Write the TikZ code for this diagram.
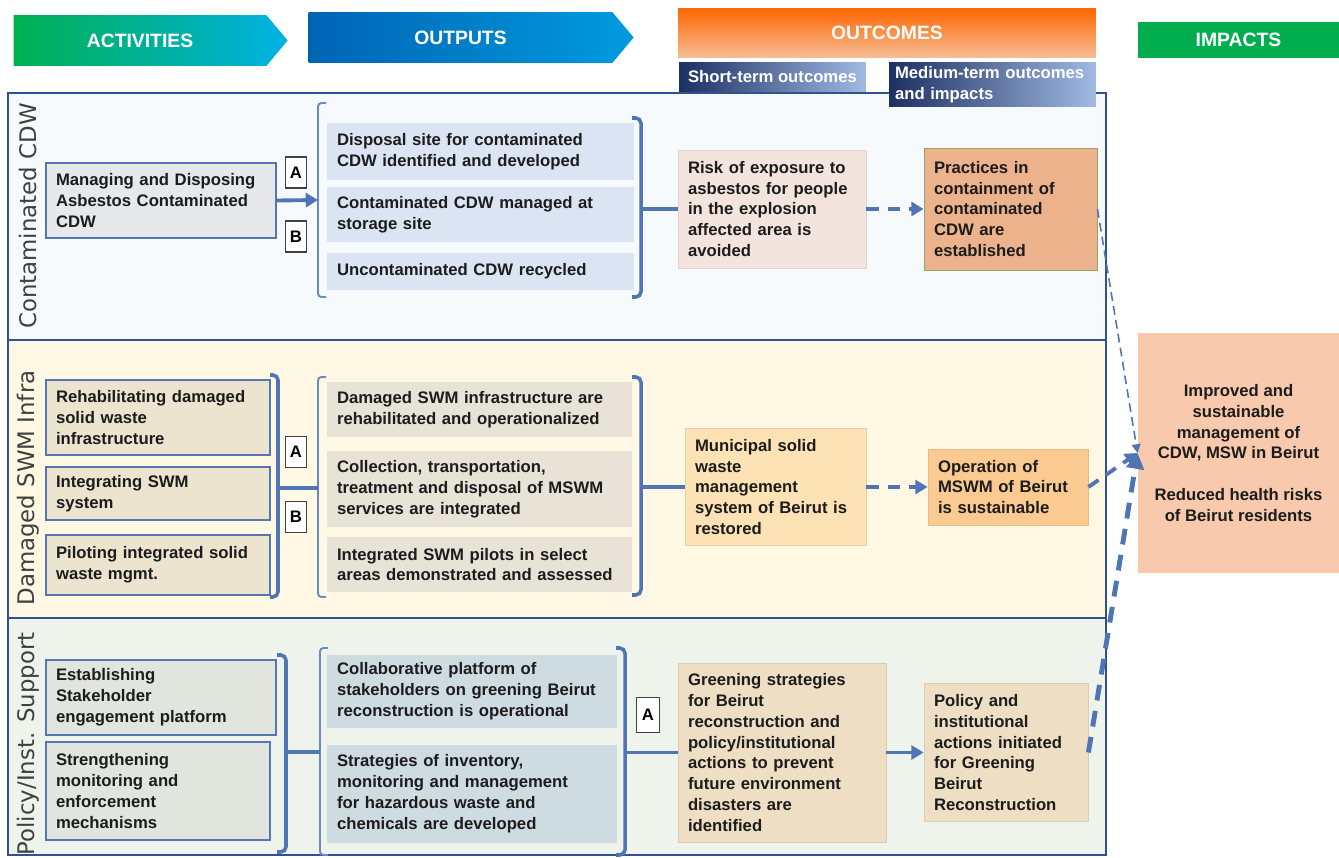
\documentclass[tikz,border=0pt]{standalone}
\usepackage{fontspec}
\setmainfont{Liberation Sans}
\newfontfamily\bandfont{DejaVu Sans}
\usepackage{xcolor}
\usepackage{tikz}
\usetikzlibrary{
  shapes.symbols,
  arrows.meta,
  positioning
}
\definecolor{framenavy}{RGB}{47, 82, 143}
\definecolor{linkblue}{RGB}{79, 117, 181}
\definecolor{actedge}{RGB}{84, 118, 178}
\definecolor{inkdark}{RGB}{28, 28, 28}
\definecolor{cdwbg}{RGB}{246, 250, 253}
\definecolor{swmbg}{RGB}{255, 248, 228}
\definecolor{polbg}{RGB}{238, 243, 236}
\definecolor{cdwact}{RGB}{230, 232, 236}
\definecolor{swmact}{RGB}{236, 228, 206}
\definecolor{polact}{RGB}{226, 228, 222}
\definecolor{cdwout}{RGB}{218, 228, 243}
\definecolor{swmout}{RGB}{231, 227, 215}
\definecolor{polout}{RGB}{206, 219, 224}
\definecolor{riskpink}{RGB}{243, 229, 221}
\definecolor{practorange}{RGB}{236, 178, 140}
\definecolor{practedge}{RGB}{150, 165, 100}
\definecolor{mswpeach}{RGB}{252, 226, 180}
\definecolor{operpeach}{RGB}{250, 202, 145}
\definecolor{greentan}{RGB}{238, 222, 196}
\definecolor{impactsalmon}{RGB}{248, 201, 172}
\definecolor{hdrgreen}{RGB}{0, 176, 80}
\definecolor{hdrcyan}{RGB}{0, 178, 228}
\definecolor{hdrdeep}{RGB}{0, 100, 180}
\definecolor{hdrsea}{RGB}{0, 155, 222}
\definecolor{hdrorange}{RGB}{255, 102, 0}
\definecolor{hdrpeach}{RGB}{246, 190, 150}
\definecolor{hdrnavy}{RGB}{28, 48, 98}
\definecolor{hdrsky}{RGB}{160, 186, 226}
\definecolor{impgreen}{RGB}{0, 174, 80}
\newcommand\boxtext{\fontsize{9.5pt}{11.9pt}\selectfont\bfseries}
\newcommand\hdrtext{\fontsize{11pt}{13pt}\selectfont\bfseries}
\tikzset{
  band/.style = {draw=framenavy, line width=1.1pt, fill=#1},
  bandlabel/.style = {
    rotate=90, text=black!75, inner sep=0pt,
    font=\bandfont\fontsize{13pt}{15pt}\selectfont
  },
  actbox/.style = {
    rectangle, draw=actedge, line width=1pt, fill=#1,
    align=left, font=\boxtext, text=inkdark, inner xsep=0.2cm
  },
  outbox/.style = {
    rectangle, fill=#1, align=left, font=\boxtext,
    text=inkdark, inner xsep=0.2cm
  },
  resbox/.style = {
    rectangle, fill=#1, draw=#1!92!black, line width=0.5pt,
    align=left, font=\boxtext, text=inkdark, inner xsep=0.2cm
  },
  tag/.style = {
    rectangle, draw=black!75, fill=white, line width=0.6pt,
    font=\boxtext, minimum width=0.42cm, minimum height=0.62cm, inner sep=0pt
  },
  hdrarrow/.style = {
    signal, signal to=east, signal pointer angle=100,
    text=white, font=\hdrtext, minimum height=1.02cm, inner sep=0pt
  },
  hdrbox/.style = {rectangle, text=white, font=\hdrtext, inner sep=0pt},
  brk/.style = {draw=linkblue, line width=2pt, rounded corners=3pt},
  brkthin/.style = {draw=linkblue!85, line width=1.1pt, rounded corners=2pt},
  arrblu/.style = {-{Triangle[length=7pt, width=8pt]}, draw=linkblue, line width=2.2pt},
  arrdash/.style = {arrblu, dash pattern=on 7pt off 5pt},
  arrthin/.style = {-{Triangle[length=5pt, width=5pt]}, draw=linkblue,
    line width=0.9pt, dash pattern=on 5pt off 3pt},
}

\begin{document}
\begin{tikzpicture}[x=0.02cm, y=-0.02cm]
  \useasboundingbox (0,0) rectangle (1339,858);

  \node[band=cdwbg, minimum width=21.96cm, minimum height=4.94cm] (bcdw) at (557,216.5) {};
  \node[band=swmbg, minimum width=21.96cm, minimum height=5.56cm] (bswm) at (557,479) {};
  \node[band=polbg, minimum width=21.96cm, minimum height=4.74cm] (bpol) at (557,736.5) {};

  \node[bandlabel] (lcdw) at (28,216) {Contaminated CDW};
  \node[bandlabel] (lswm) at (28,488) {Damaged SWM Infra};
  \node[bandlabel] (lpol) at (28,744) {Policy/Inst. Support};

  \node[hdrarrow, left color=hdrgreen, right color=hdrcyan, minimum width=5.48cm] (hact) at (140,40.5) {ACTIVITIES};
  \node[hdrarrow, left color=hdrdeep, right color=hdrsea, minimum width=6.5cm] (hout) at (460.5,37.5) {OUTPUTS};
  \node[hdrbox, top color=hdrorange, bottom color=hdrpeach, minimum width=8.36cm, minimum height=1cm] (hres) at (887,33) {OUTCOMES};
  \node[hdrbox, fill=impgreen, minimum width=4.02cm, minimum height=0.72cm] (himp) at (1238.5,40) {IMPACTS};
  \node[hdrbox, left color=hdrnavy, right color=hdrsky, font=\boxtext, minimum width=3.74cm, minimum height=0.6cm] (hshort) at (772.5,77) {Short-term outcomes};
  \node[hdrbox, left color=hdrnavy, right color=hdrsky, font=\boxtext, align=left, text width=3.9cm, inner xsep=0.12cm, minimum height=0.9cm] (hmed) at (992.5,84.5) {Medium-term outcomes\\and impacts};

  % contaminated CDW
  \node[actbox=cdwact, text width=4.2cm, minimum height=1.5cm] (act1) at (161,200.5) {Managing and Disposing\\Asbestos Contaminated\\CDW};
  \node[tag] (tA1) at (296,172.5) {A};
  \node[tag] (tB1) at (296,236.5) {B};
  \node[outbox=cdwout, text width=5.74cm, minimum height=1.14cm] (o11) at (480.5,151.5) {Disposal site for contaminated\\CDW identified and developed};
  \node[outbox=cdwout, text width=5.74cm, minimum height=1.1cm] (o12) at (480.5,214.5) {Contaminated CDW managed at\\storage site};
  \node[outbox=cdwout, text width=5.74cm, minimum height=0.74cm] (o13) at (480.5,271.5) {Uncontaminated CDW recycled};
  \node[resbox=riskpink, text width=3.36cm, minimum height=2.36cm] (r11) at (772,209) {Risk of exposure to\\asbestos for people\\in the explosion\\affected area is\\avoided};
  \node[resbox=practorange, draw=practedge, text width=3.06cm, minimum height=2.44cm] (r12) at (1010.5,209) {Practices in\\containment of\\contaminated\\CDW are\\established};

  \coordinate (b1l) at (318,200);
  \coordinate (b1r) at (641,209);
  \draw[brkthin] (326,103) -- (318,103) -- (318,297) -- (326,297);
  \draw[brk] (632,118) -- (641,118) -- (641,297) -- (632,297);
  \draw[arrblu] (act1.east) -- (b1l);
  \draw[brk] (b1r) -- (r11.west);
  \draw[arrdash] (r11.east) -- (r12.west);

  % damaged SWM infra
  \node[actbox=swmact, text width=4.08cm, minimum height=1.5cm] (act21) at (158,417.5) {Rehabilitating damaged\\solid waste\\infrastructure};
  \node[actbox=swmact, text width=4.08cm, minimum height=1.06cm] (act22) at (158,493.5) {Integrating SWM\\system};
  \node[actbox=swmact, text width=4.08cm, minimum height=1.2cm] (act23) at (158,565) {Piloting integrated solid\\waste mgmt.};
  \node[tag] (tA2) at (296,452) {A};
  \node[tag] (tB2) at (296,517) {B};
  \node[outbox=swmout, text width=5.7cm, minimum height=1.1cm] (o21) at (479.5,409.5) {Damaged SWM infrastructure are\\rehabilitated and operationalized};
  \node[outbox=swmout, text width=5.7cm, minimum height=1.52cm] (o22) at (479.5,489) {Collection, transportation,\\treatment and disposal of MSWM\\services are integrated};
  \node[outbox=swmout, text width=5.7cm, minimum height=1.1cm] (o23) at (479.5,564.5) {Integrated SWM pilots in select\\areas demonstrated and assessed};
  \node[resbox=mswpeach, text width=3.22cm, minimum height=2.34cm] (r21) at (775.5,487) {Municipal solid\\waste\\management\\system of Beirut is\\restored};
  \node[resbox=operpeach, text width=2.8cm, minimum height=1.52cm] (r22) at (1008,487) {Operation of\\MSWM of Beirut\\is sustainable};

  \coordinate (b2a) at (278,488);
  \coordinate (b2l) at (318,488);
  \coordinate (b2r) at (641,487);
  \draw[brk] (270,375) -- (278,375) -- (278,597) -- (270,597);
  \draw[brkthin] (326,377) -- (318,377) -- (318,597) -- (326,597);
  \draw[brk] (632,377) -- (641,377) -- (641,595) -- (632,595);
  \draw[brk] (b2a) -- (b2l);
  \draw[brk] (b2r) -- (r21.west);
  \draw[arrdash] (r21.east) -- (r22.west);

  % policy / institutional support
  \node[actbox=polact, text width=4.2cm, minimum height=1.5cm] (act31) at (161,697.5) {Establishing\\Stakeholder\\engagement platform};
  \node[actbox=polact, text width=4.08cm, minimum height=1.96cm] (act32) at (158,791) {Strengthening\\monitoring and\\enforcement\\mechanisms};
  \node[tag, minimum width=0.46cm, minimum height=0.7cm] (tA3) at (648,715) {A};
  \node[outbox=polout, text width=5.4cm, minimum height=1.46cm] (o31) at (472,691.5) {Collaborative platform of\\stakeholders on greening Beirut\\reconstruction is operational};
  \node[outbox=polout, text width=5.4cm, minimum height=1.96cm] (o32) at (472,794) {Strategies of inventory,\\monitoring and management\\for hazardous waste and\\chemicals are developed};
  \node[resbox=greentan, text width=3.76cm, minimum height=3.58cm] (r31) at (782,752.5) {Greening strategies\\for Beirut\\reconstruction and\\policy/institutional\\actions to prevent\\future environment\\disasters are\\identified};
  \node[resbox=greentan, text width=2.88cm, minimum height=2.76cm] (r32) at (1006,752.5) {Policy and\\institutional\\actions initiated\\for Greening\\Beirut\\Reconstruction};

  \coordinate (b3a) at (286,752);
  \coordinate (b3l) at (320,752);
  \coordinate (b3r) at (625,752.5);
  \draw[brk] (277,655) -- (286,655) -- (286,852) -- (277,852);
  \draw[brkthin] (328,648) -- (320,648) -- (320,855) -- (328,855);
  \draw[brk] (616,648) -- (625,648) -- (625,855) -- (616,855);
  \draw[brk] (b3a) -- (b3l);
  \draw[brk] (b3r) -- (r31.west);
  \draw[arrblu] (r31.east) -- (r32.west);

  % impacts
  \node[resbox=impactsalmon, draw=none, align=center, minimum width=4.02cm, minimum height=4.8cm] (impact) at (1238.5,453) {Improved and\\sustainable\\management of\\CDW, MSW in Beirut\\[11.9pt]Reduced health risks\\of Beirut residents};

  \draw[arrthin] (r12.east) -- (impact.west);
  \draw[arrdash] (r22.east) -- (impact.west);
  \draw[arrdash, line width=2.8pt, dash pattern=on 9pt off 6pt, -{Triangle[length=9pt, width=10pt]}] (r32.east) -- (impact.west);

\end{tikzpicture}
\end{document}
